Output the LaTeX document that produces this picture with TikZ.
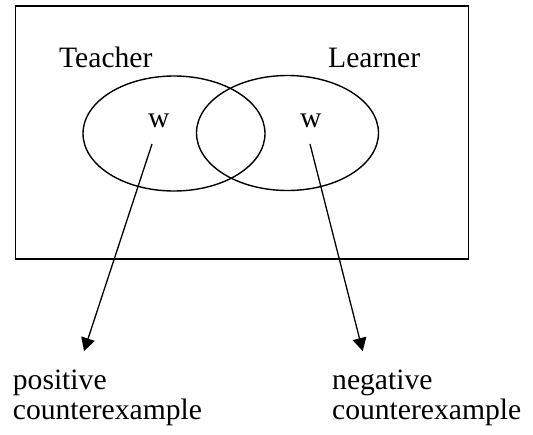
\documentclass[tikz,border=0pt]{standalone}
\usepackage{fontspec}
\setmainfont{Liberation Serif}
\usetikzlibrary{arrows.meta, positioning, shapes.geometric}

\begin{document}
\begin{tikzpicture}[
  x=1pt, y=-1pt,
  label/.style={
    inner sep=0pt,
    anchor=base west,
    align=left,
    font=\fontsize{29.6}{30}\selectfont
  },
  set/.style={
    ellipse,
    draw=black,
    line width=1.4pt,
    inner sep=0pt,
    minimum width=182pt,
    minimum height=115pt
  },
  arrow/.style={-{Triangle[length=13pt,width=14pt]}, line width=1.3pt, draw=black}
]
\useasboundingbox (0,0) rectangle (533,434);

\node[draw=black, line width=1.4pt, minimum width=453pt, minimum height=253pt, inner sep=0pt] (universe) at (242,132.5) {};

\node[set] (teacher) at (174,133.5) {};
\node[set] (learner) at (287.5,133) {};

\node[label] (tname) at (59,67) {Teacher};
\node[label] (lname) at (328,67) {Learner};

\node[label] (wt) at (148,127) {w};
\node[label] (wl) at (300,127) {w};

% base anchor sits on the last line
\node[label] (pos) at (12.7,419.5) {positive\\counterexample};
\node[label] (neg) at (332,419.5) {negative\\counterexample};

\coordinate (pstart) at (152,144);
\coordinate (pend) at (84,351);
\coordinate (nstart) at (310,144);
\coordinate (nend) at (362.7,351);

\draw[arrow] (pstart) -- (pend);
\draw[arrow] (nstart) -- (nend);

\end{tikzpicture}
\end{document}
